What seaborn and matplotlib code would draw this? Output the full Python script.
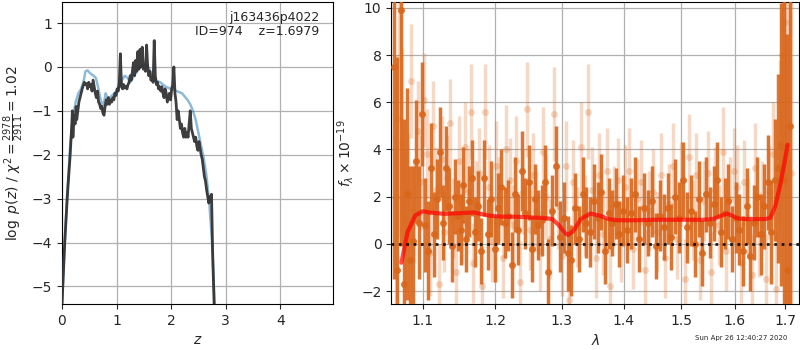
import numpy as np
import pandas as pd
import seaborn as sns
import matplotlib
matplotlib.use("Agg")
import matplotlib.pyplot as plt
from matplotlib.ticker import FixedLocator, FixedFormatter, NullFormatter, NullLocator

# ---- p(z) panel data ----
z_fit = [0.00, 0.05, 0.10, 0.15, 0.18, 0.19, 0.20, 0.22, 0.24, 0.26,
         0.27, 0.29, 0.31, 0.33, 0.35, 0.37, 0.39, 0.41, 0.43, 0.45,
         0.47, 0.49, 0.51, 0.53, 0.55, 0.57, 0.59, 0.61, 0.63, 0.65,
         0.67, 0.69, 0.71, 0.73, 0.75, 0.77, 0.79, 0.81, 0.83, 0.85,
         0.87, 0.89, 0.91, 0.93, 0.95, 0.97, 0.99, 1.01, 1.03, 1.05,
         1.07, 1.09, 1.11, 1.13, 1.15, 1.17, 1.19, 1.21, 1.23, 1.25,
         1.27, 1.29, 1.31, 1.33, 1.35, 1.37, 1.39, 1.41, 1.43, 1.45,
         1.47, 1.49, 1.51, 1.53, 1.55, 1.57, 1.59, 1.61, 1.63, 1.65,
         1.67, 1.69, 1.71, 1.73, 1.75, 1.77, 1.79, 1.81, 1.83, 1.85,
         1.87, 1.89, 1.91, 1.93, 1.95, 1.97, 1.99, 2.01, 2.03, 2.05,
         2.07, 2.09, 2.11, 2.13, 2.15, 2.17, 2.19, 2.21, 2.23, 2.25,
         2.27, 2.29, 2.31, 2.33, 2.35, 2.37, 2.39, 2.41, 2.43, 2.45,
         2.47, 2.49, 2.51, 2.53, 2.55, 2.57, 2.59, 2.61, 2.63, 2.65,
         2.67, 2.69, 2.71, 2.73, 2.74, 2.76, 2.79]
logp_fit = [-5.4, -4.0, -2.9, -2.0, -1.3, -1.0, -1.6, -1.1, -1.3, -0.9,
            -1.2, -1.0, -0.8, -0.7, -0.6, -0.5, -0.42, -0.35, -0.4, -0.38,
            -0.5, -0.35, -0.45, -0.4, -0.55, -0.3, -0.45, -0.6, -0.7, -0.55,
            -0.8, -0.85, -0.95, -0.9, -1.05, -1.1, -0.9, -0.75, -0.85, -0.7,
            -0.85, -0.75, -0.8, -0.7, -0.75, -0.6, -0.65, -0.5, -0.55, -0.35,
            0.3, -0.45, -0.5, -0.4, -0.48, -0.45, -0.5, -0.4, -0.35, -0.2,
            -0.3, -0.1, 0.1, -0.2, 0.15, -0.1, 0.35, -0.05, 0.4, 0.0,
            0.45, -0.05, 0.0, -0.1, 0.5, 0.0, -0.2, -0.1, -0.3, -0.25,
            -0.35, 0.6, -0.2, -0.4, -0.35, -0.5, -0.45, -0.55, -0.45, -0.6,
            -0.7, -0.5, -0.6, -0.8, -0.7, -0.6, -0.75, -0.5, -0.4, 0.0,
            -0.6, -0.8, -1.2, -1.0, -1.2, -1.4, -1.3, -1.5, -1.6, -1.4,
            -1.6, -1.5, -1.6, -1.3, -1.0, -1.4, -1.5, -1.6, -1.7, -1.6,
            -1.8, -1.9, -1.7, -1.85, -2.0, -2.1, -2.3, -2.5, -2.6, -2.8,
            -2.95, -3.1, -2.95, -3.05, -2.9, -4.2, -5.5]

z_prior = [0.00, 0.05, 0.10, 0.15, 0.20, 0.25, 0.30, 0.35, 0.40, 0.43,
           0.47, 0.52, 0.58, 0.62, 0.66, 0.70, 0.74, 0.78, 0.80, 0.83,
           0.87, 0.92, 1.00, 1.05, 1.10, 1.15, 1.20, 1.25, 1.30, 1.35,
           1.40, 1.45, 1.50, 1.55, 1.60, 1.65, 1.70, 1.80, 1.90, 2.00,
           2.10, 2.20, 2.30, 2.35, 2.40, 2.45, 2.50, 2.55, 2.60, 2.65,
           2.70, 2.75, 2.80]
logp_prior = [-5.4, -4.0, -2.8, -1.8, -1.15, -0.8, -0.6, -0.5, -0.3, -0.1,
              -0.08, -0.15, -0.2, -0.25, -0.45, -0.7, -0.9, -0.75, -0.6, -0.7,
              -0.7, -0.65, -0.55, -0.45, -0.3, -0.2, -0.25, -0.35, -0.25, -0.15,
              -0.05, 0.02, 0.05, 0.05, -0.05, -0.2, -0.3, -0.35, -0.45, -0.5,
              -0.55, -0.6, -0.75, -0.85, -1.0, -1.2, -1.5, -1.8, -2.1, -2.5,
              -3.1, -4.0, -5.5]

# ---- spectrum panel data ----
wave_a = [1.063, 1.067, 1.071, 1.075, 1.079, 1.083, 1.087, 1.091, 1.095, 1.099,
          1.103, 1.107, 1.111, 1.115, 1.119, 1.123, 1.127, 1.131, 1.135, 1.139,
          1.143, 1.147, 1.151, 1.155, 1.159, 1.163, 1.167, 1.171, 1.175, 1.179,
          1.184, 1.189, 1.194, 1.199, 1.204, 1.209, 1.214, 1.219, 1.224, 1.229,
          1.234, 1.239, 1.244, 1.249, 1.254, 1.259, 1.264, 1.269, 1.274, 1.279,
          1.285, 1.291, 1.297, 1.303, 1.309, 1.315, 1.321, 1.327, 1.333, 1.339,
          1.345, 1.351, 1.357, 1.363, 1.369, 1.375, 1.381, 1.387, 1.393, 1.399,
          1.406, 1.413, 1.420, 1.427, 1.434, 1.441, 1.448, 1.455, 1.462, 1.469,
          1.476, 1.483, 1.490, 1.497, 1.504, 1.511, 1.518, 1.525, 1.532, 1.539,
          1.546, 1.553, 1.560, 1.567, 1.574, 1.581, 1.588, 1.595, 1.602, 1.609,
          1.616, 1.623, 1.630, 1.637, 1.644, 1.651, 1.658, 1.665, 1.672, 1.679,
          1.686, 1.692, 1.698, 1.704, 1.710]
flux_a = [7.5, -1.1, 9.9, -1.7, 2.1, -0.7, 0.1, 3.5, 0.9, 5.5,
          0.8, -0.3, 3.2, 0.4, 1.9, 3.9, 0.9, 3.2, 1.6, -0.1,
          2.0, 1.2, 0.6, 2.5, 0.2, 1.8, 2.8, 0.5, 1.6, -0.3,
          2.8, 0.4, 1.9, -0.2, 1.5, 2.4, 0.9, 1.2, -0.9, 2.1,
          0.6, 3.1, 1.3, 2.6, -0.2, 1.9, 0.8, 1.0, 2.6, -1.2,
          1.4, 3.3, 0.3, 1.1, -0.4, -0.7, 1.5, 0.2, 2.1, 0.9,
          0.5, 1.8, 1.1, 2.2, -0.3, 1.3, 0.9, 1.7, 0.4, 1.4,
          0.6, 1.3, 2.1, 0.2, 1.5, 0.9, 1.8, -0.1, 1.2, 0.7,
          1.5, 0.3, 2.0, 1.1, 2.7, 0.7, 1.4, 0.0, 1.9, -0.4,
          2.1, 0.9, 1.7, 2.7, 0.5, 1.3, 1.8, 0.2, 1.1, 0.6,
          -0.3, 1.6, -0.5, 0.9, 2.0, 0.4, 1.6, 2.6, 0.5, 2.7,
          3.2, 4.2, 2.7, -1.1, 5.0]
err_a = [9.0, 9.0, 10.0, 7.0, 4.5, 4.0, 3.2, 2.6, 2.4, 2.2,
         2.0, 2.1, 1.9, 1.8, 1.7, 1.9, 1.6, 1.8, 1.6, 1.5,
         1.6, 1.5, 1.5, 1.6, 1.4, 1.5, 1.6, 1.5, 1.5, 1.4,
         1.6, 1.5, 1.6, 1.4, 1.5, 1.6, 1.5, 1.5, 1.4, 1.6,
         1.5, 1.7, 1.5, 1.6, 1.4, 1.5, 1.5, 1.5, 1.6, 1.4,
         1.5, 1.7, 1.5, 1.5, 1.6, 1.5, 1.5, 1.4, 1.6, 1.5,
         1.5, 1.6, 1.5, 1.6, 1.4, 1.5, 1.4, 1.5, 1.4, 1.5,
         1.4, 1.5, 1.6, 1.4, 1.5, 1.4, 1.5, 1.4, 1.5, 1.4,
         1.5, 1.4, 1.6, 1.5, 1.6, 1.5, 1.5, 1.4, 1.6, 1.4,
         1.6, 1.5, 1.6, 1.6, 1.5, 1.5, 1.6, 1.4, 1.5, 1.5,
         1.5, 1.6, 1.5, 1.6, 1.7, 1.7, 1.8, 2.0, 2.2, 2.6,
         4.0, 6.0, 8.0, 10.0, 12.0]

wave_b = [1.065, 1.069, 1.073, 1.077, 1.081, 1.085, 1.089, 1.093, 1.097, 1.101,
          1.105, 1.109, 1.113, 1.117, 1.121, 1.125, 1.129, 1.133, 1.137, 1.141,
          1.145, 1.149, 1.153, 1.157, 1.161, 1.165, 1.169, 1.173, 1.177, 1.181,
          1.186, 1.191, 1.196, 1.201, 1.206, 1.211, 1.216, 1.221, 1.226, 1.231,
          1.236, 1.241, 1.246, 1.251, 1.256, 1.261, 1.266, 1.271, 1.276, 1.282,
          1.288, 1.294, 1.300, 1.306, 1.312, 1.318, 1.324, 1.330, 1.336, 1.342,
          1.348, 1.354, 1.360, 1.366, 1.372, 1.378, 1.384, 1.390, 1.396, 1.402,
          1.409, 1.416, 1.423, 1.430, 1.437, 1.444, 1.451, 1.458, 1.465, 1.472,
          1.479, 1.486, 1.493, 1.500, 1.507, 1.514, 1.521, 1.528, 1.535, 1.542,
          1.549, 1.556, 1.563, 1.570, 1.577, 1.584, 1.591, 1.598, 1.605, 1.612,
          1.619, 1.626, 1.633, 1.640, 1.647, 1.654, 1.661, 1.668, 1.675, 1.682,
          1.689, 1.694, 1.700, 1.706, 1.712]
flux_b = [2.0, 5.3, 4.3, 1.0, 2.2, 6.9, 1.4, 4.8, 2.6, 6.1,
          3.8, -0.4, 5.0, 2.3, -1.7, 3.6, 0.5, 2.8, 5.1, 1.1,
          -1.2, 3.5, 0.9, 4.1, 2.2, 5.6, -0.8, 1.7, 3.0, -1.8,
          5.6, 2.4, 0.1, 3.3, 1.9, -0.6, 4.0, 2.7, 0.8, 3.5,
          -1.6, 2.2, 5.7, 0.6, 2.9, 1.4, -0.3, 3.9, 2.0, 0.2,
          5.5, 1.6, -0.5, 3.3, -2.4, 2.6, 0.7, 4.1, 1.2, 5.6,
          2.3, -0.6, 2.9, 0.4, 3.1, -1.8, 1.6, 2.7, 0.1, 2.4,
          3.1, -0.2, 1.9, 2.6, -1.1, 1.4, 2.2, 0.5, 2.9, -0.6,
          1.7, 3.3, 0.2, 2.5, -1.5, 3.7, 1.0, 2.9, -0.7, 1.8,
          3.0, -1.2, 2.3, 0.8, 3.9, -0.3, 1.9, 3.1, 2.4, -0.8,
          2.6, 1.1, -1.3, 3.2, 0.4, 1.7, -1.5, 2.2, 3.8, -1.9,
          4.3, 8.0, 9.4, 6.2, 3.0]
err_b = [6.0, 5.0, 4.0, 3.0, 2.5, 2.4, 2.2, 2.1, 2.0, 2.0,
         1.9, 1.8, 1.9, 1.8, 1.7, 1.8, 1.7, 1.8, 1.9, 1.7,
         1.8, 1.9, 1.7, 1.9, 1.8, 2.0, 1.7, 1.8, 1.9, 1.7,
         2.0, 1.8, 1.7, 1.9, 1.8, 1.7, 1.9, 1.8, 1.7, 1.9,
         1.7, 1.8, 2.0, 1.7, 1.8, 1.7, 1.7, 1.9, 1.8, 1.7,
         2.0, 1.8, 1.7, 1.9, 1.8, 1.8, 1.7, 1.9, 1.7, 2.0,
         1.8, 1.7, 1.8, 1.7, 1.8, 1.7, 1.7, 1.8, 1.7, 1.8,
         1.8, 1.7, 1.7, 1.8, 1.7, 1.7, 1.8, 1.7, 1.8, 1.7,
         1.7, 1.8, 1.7, 1.8, 1.7, 1.8, 1.7, 1.8, 1.7, 1.7,
         1.8, 1.7, 1.8, 1.7, 1.9, 1.7, 1.8, 1.8, 1.8, 1.7,
         1.8, 1.7, 1.7, 1.9, 1.8, 1.8, 1.9, 2.0, 2.2, 2.4,
         3.5, 5.0, 7.0, 9.0, 11.0]

wave_model = [1.072, 1.080, 1.090, 1.100, 1.110, 1.130, 1.150, 1.170, 1.190, 1.210,
              1.230, 1.250, 1.270, 1.285, 1.295, 1.305, 1.310, 1.318, 1.330, 1.345,
              1.360, 1.375, 1.390, 1.420, 1.450, 1.480, 1.510, 1.540, 1.560, 1.575,
              1.585, 1.595, 1.605, 1.620, 1.640, 1.660, 1.670, 1.680, 1.690, 1.700,
              1.705]
flux_model = [-0.8, 0.5, 1.2, 1.38, 1.32, 1.27, 1.3, 1.33, 1.2, 1.15,
              1.15, 1.12, 1.1, 1.05, 0.8, 0.45, 0.38, 0.55, 1.05, 1.28,
              1.2, 1.05, 1.0, 1.0, 1.02, 1.02, 1.02, 1.02, 1.06, 1.2,
              1.28, 1.2, 1.08, 1.05, 1.05, 1.05, 1.1, 1.6, 2.5, 3.6,
              4.2]

wave_ticks = [1.1, 1.2, 1.3, 1.4, 1.5, 1.6, 1.7]

sns.set_style("ticks", {"axes.grid": True, "grid.color": "#b0b0b0",
                        "axes.edgecolor": "black", "xtick.direction": "out",
                        "ytick.direction": "out"})
plt.rcParams['font.family'] = ['DejaVu Sans']

fig = plt.figure(figsize=(8, 3.5), dpi=100)
ax1 = fig.add_axes([0.0775, 0.1314, 0.339, 0.863])
ax2 = fig.add_axes([0.489, 0.1314, 0.510, 0.863])

# left: p(z)
pz_fit = pd.DataFrame({'z': z_fit, 'logp': logp_fit})
pz_prior = pd.DataFrame({'z': z_prior, 'logp': logp_prior})
sns.lineplot(data=pz_prior, x='z', y='logp', ax=ax1, color='#1f77b4', lw=1.8,
             alpha=0.5, sort=False, zorder=3)
sns.lineplot(data=pz_fit, x='z', y='logp', ax=ax1, color='0.2', lw=2,
             alpha=0.95, sort=False, zorder=4)
ax1.set_xlim(0, 4.97)
ax1.set_ylim(-5.4, 1.48)
ax1.set_xticks([0, 1, 2, 3, 4])
ax1.set_xlabel('$z$')
ax1.set_ylabel(r'$\log\ p(z)$ / $\chi^2=\frac{2978}{2911}=1.02$')
ax1.text(0.95, 0.97, 'j163436p4022\nID=974    z=1.6979', transform=ax1.transAxes,
         ha='right', va='top', fontsize=9, linespacing=1.1)
ax1.grid(True, color='#b0b0b0', lw=0.9)

# right: spectrum
orange = '#d9661a'
ax2.errorbar(wave_b, flux_b, yerr=err_b, fmt='o', color=orange, alpha=0.25,
             ms=5, elinewidth=2.5, mec='none', zorder=2)
ax2.errorbar(wave_a, flux_a, yerr=err_a, fmt='o', color=orange, alpha=0.9,
             ms=5, elinewidth=2.5, mec='none', zorder=3)
model = pd.DataFrame({'wave': wave_model, 'flux': flux_model})
sns.lineplot(data=model, x='wave', y='flux', ax=ax2, color='red', lw=3,
             alpha=0.7, sort=False, zorder=5)
ax2.axhline(0, color='black', ls=':', lw=2, alpha=0.85, zorder=6)
ax2.set_xscale('log')
ax2.set_xlim(1.059, 1.729)
ax2.set_ylim(-2.55, 10.25)
ax2.xaxis.set_major_locator(FixedLocator(wave_ticks))
ax2.xaxis.set_major_formatter(FixedFormatter(['%.1f' % w for w in wave_ticks]))
ax2.xaxis.set_minor_locator(NullLocator())
ax2.xaxis.set_minor_formatter(NullFormatter())
ax2.set_xlabel(r'$\lambda$')
ax2.set_ylabel(r'$f_\lambda \times 10^{-19}$')
ax2.grid(True, color='#b0b0b0', lw=0.9)

fig.text(0.984, 0.025, 'Sun Apr 26 12:40:27 2020', ha='right', va='bottom',
         fontsize=5)

fig.savefig('out.png', dpi=100)
